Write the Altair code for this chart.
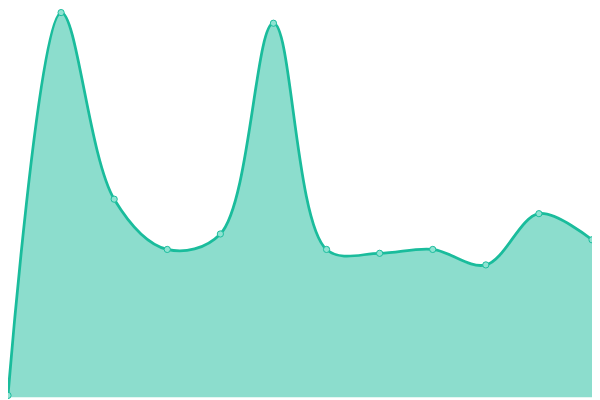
import altair as alt
import pandas as pd

idx = list(range(12))
values = [2, 398, 205, 153, 169, 387, 153, 149, 153, 137, 190, 163]

df = pd.DataFrame({"i": idx, "v": values})

x = alt.X("i:Q", scale=alt.Scale(domain=[0, 11], nice=False, zero=False), axis=None)
y = alt.Y("v:Q", scale=alt.Scale(domain=[0, 400], nice=False), axis=None)

base = alt.Chart(df).encode(x=x, y=y)

area = base.mark_area(interpolate="catmull-rom", color="#1abc9c", opacity=0.5)
line = base.mark_line(interpolate="catmull-rom", color="#1abc9c", strokeWidth=2.8)
pts = base.mark_point(filled=True, fill="#8fe3d2", stroke="#1abc9c", strokeWidth=1, opacity=1, size=40)

chart = alt.layer(area, line, pts).properties(
    width=592, height=392, padding=0, autosize=alt.AutoSizeParams(type="none")
).configure_view(stroke=None)

chart.save("out.html", embed_options={"renderer": "svg", "actions": False})
